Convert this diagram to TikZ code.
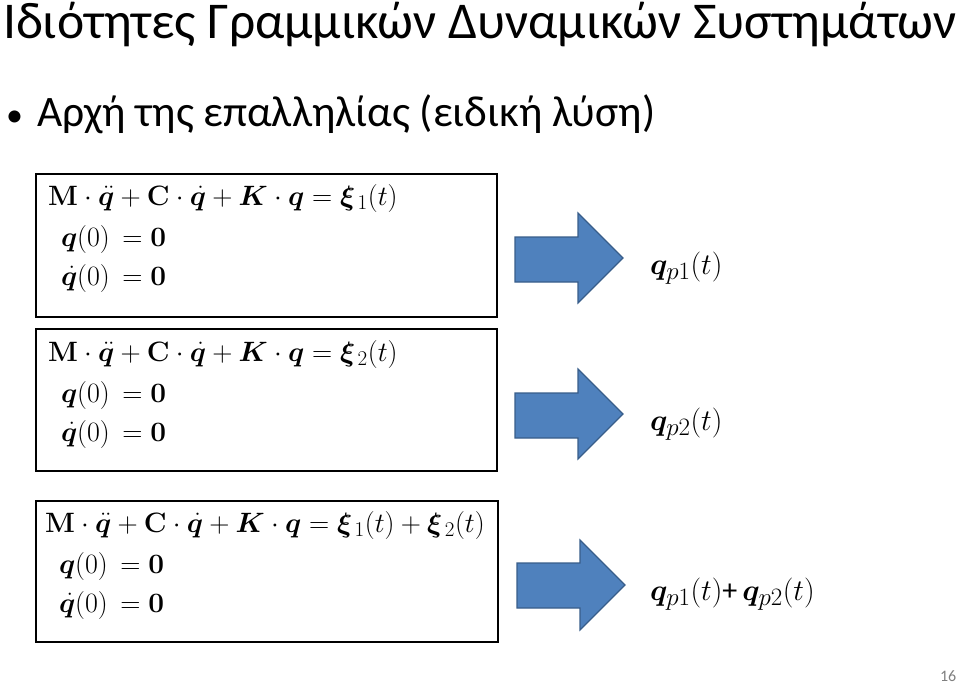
\RequirePackage{fix-cm}
\documentclass[tikz,border=0pt]{standalone}
\usepackage{amsmath,amssymb,bm}
\usepackage[no-math]{fontspec}
\setmainfont{Carlito}
\DeclareMathSizes{28}{28}{21}{16}
\DeclareMathSizes{30}{30}{25}{18}
\definecolor{arrfill}{HTML}{4F81BD}
\definecolor{arrdraw}{HTML}{385D8A}
\begin{document}
\begin{tikzpicture}[x=1pt,y=-1pt,
  eqbox/.style={draw=black,line width=2.2pt},
  blockarrow/.style={fill=arrfill,draw=arrdraw,line width=1.2pt,line join=miter},
  txt/.style={anchor=base west,inner sep=0pt,outer sep=0pt},
  eq/.style={txt,font=\fontsize{28}{34}\selectfont},
  res/.style={txt,font=\fontsize{30}{36}\selectfont}]
\useasboundingbox (0,0) rectangle (960,685);
\node[txt,font=\fontsize{51.6}{60}\selectfont] (title) at (3,38) {Ιδιότητες Γραμμικών Δυναμικών Συστημάτων};
\node[txt,font=\fontsize{34}{48}\selectfont] (bul) at (6,126) {•};
\node[txt,font=\fontsize{43.5}{50}\selectfont] (sub) at (37,126) {Αρχή της επαλληλίας (ειδική λύση)};
% boxes
\node[eqbox,minimum width=461pt,minimum height=143pt,anchor=north west,inner sep=0pt] (b1) at (35,173) {};
\node[eqbox,minimum width=461pt,minimum height=142pt,anchor=north west,inner sep=0pt] (b2) at (35,328) {};
\node[eqbox,minimum width=462pt,minimum height=141pt,anchor=north west,inner sep=0pt] (b3) at (35,500) {};
% box 1
\node[eq] (e11) at (48,205) {$\mathbf{M}\cdot\ddot{\bm q}+\mathbf{C}\cdot\dot{\bm q}+\bm{K}\cdot\bm{q}=\bm{\xi}_{\,1}(t)$};
\node[eq] (e12) at (61,246) {$\bm{q}(0)\,=\mathbf{0}$};
\node[eq] (e13) at (61,285) {$\dot{\bm q}(0)\,=\mathbf{0}$};
% box 2
\node[eq] (e21) at (48,361) {$\mathbf{M}\cdot\ddot{\bm q}+\mathbf{C}\cdot\dot{\bm q}+\bm{K}\cdot\bm{q}=\bm{\xi}_{\,2}(t)$};
\node[eq] (e22) at (61,402) {$\bm{q}(0)\,=\mathbf{0}$};
\node[eq] (e23) at (61,441) {$\dot{\bm q}(0)\,=\mathbf{0}$};
% box 3
\node[eq] (e31) at (45,532) {$\mathbf{M}\cdot\ddot{\bm q}+\mathbf{C}\cdot\dot{\bm q}+\bm{K}\cdot\bm{q}=\bm{\xi}_{\,1}(t)+\bm{\xi}_{\,2}(t)$};
\node[eq] (e32) at (59,573) {$\bm{q}(0)\,=\mathbf{0}$};
\node[eq] (e33) at (59,612) {$\dot{\bm q}(0)\,=\mathbf{0}$};
% arrows
\draw[blockarrow] (515,237) -- (578,237) -- (578,213) -- (623,258) -- (578,303) -- (578,282) -- (515,282) -- cycle;
\draw[blockarrow] (515,393) -- (578,393) -- (578,369) -- (623,414) -- (578,459) -- (578,438) -- (515,438) -- cycle;
\draw[blockarrow] (517,563) -- (580,563) -- (580,540) -- (625,585) -- (580,630) -- (580,608) -- (517,608) -- cycle;
% results
\node[res] (r1) at (650,274) {$\bm{q}_{p1}(t)$};
\node[res] (r2) at (650,430) {$\bm{q}_{p2}(t)$};
\node[res] (r3) at (650,600) {$\bm{q}_{p1}(t)$+\,$\bm{q}_{p2}(t)$};
\node[txt,font=\fontsize{16}{18}\selectfont,text=gray] (pg) at (940,681) {16};
\end{tikzpicture}
\end{document}
